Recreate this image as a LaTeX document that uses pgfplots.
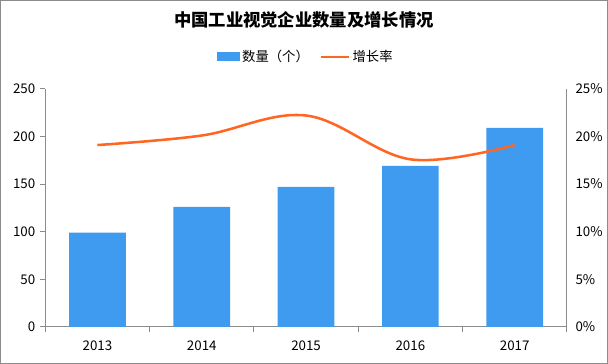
\documentclass[border=0pt]{standalone}
\usepackage{pgfplots}
\pgfplotsset{compat=1.18}
\usepackage{fontspec}
\setmainfont{Noto Sans CJK SC}
\definecolor{barblue}{RGB}{63,155,240}
\definecolor{lineor}{RGB}{255,102,34}
\definecolor{axgray}{RGB}{140,140,140}
\begin{document}
\begin{tikzpicture}[x=0.75pt,y=0.75pt]
\path[use as bounding box] (0,0) rectangle (608,364);
\draw[axgray, line width=0.75pt] (0.5,0.5) rectangle (607.5,363.5);
\node[font=\bfseries\fontsize{13}{15}\selectfont] at (304,344) {中国工业视觉企业数量及增长情况};
\begin{axis}[
  at={(43.4,39)}, anchor=south west, scale only axis,
  width=391.2pt, height=178.5pt,
  xmin=-0.5, xmax=4.5, ymin=0, ymax=250,
  axis y line*=left, axis x line*=bottom,
  axis line style={axgray, line width=0.75pt},
  xtick={0,1,2,3,4}, xticklabels={2013,2014,2015,2016,2017},
  minor xtick={-0.5,0.5,1.5,2.5,3.5,4.5},
  major x tick style={draw=none},
  minor tick length=4pt,
  ytick={0,50,100,150,200,250},
  major tick length=4pt,
  tick align=outside,
  tick style={axgray, line width=0.75pt},
  every tick label/.append style={font=\fontsize{10}{12}\selectfont},
  /pgf/number format/assume math mode=true,
  xticklabel style={yshift=-3pt},
  legend style={at={(0.5,1.135)}, anchor=center, draw=none, fill=none,
    legend columns=2, font=\fontsize{10}{12}\selectfont,
    /tikz/every even column/.append style={column sep=6pt}},
  clip=false,
]
\addplot[ybar, bar width=42.5pt, fill=barblue, draw=none,
  legend image code/.code={\fill[barblue] (0pt,-3.5pt) rectangle (17pt,3.5pt);}]
  coordinates {(0,99) (1,126) (2,147) (3,169) (4,209)};
\addlegendentry{数量（个）}
\addlegendimage{legend image code/.code={\draw[lineor, line width=1.8pt] (0pt,0pt) -- (21pt,0pt);}}
\addlegendentry{增长率}
\end{axis}
\begin{axis}[
  at={(43.4,39)}, anchor=south west, scale only axis,
  width=391.2pt, height=178.5pt,
  xmin=-0.5, xmax=4.5, ymin=0, ymax=25,
  axis y line*=right, axis x line=none,
  axis line style={axgray, line width=0.75pt},
  ytick={0,5,10,15,20,25},
  yticklabel={\pgfmathprintnumber{\tick}\%},
  major tick length=0pt,
  every tick label/.append style={font=\fontsize{10}{12}\selectfont},
  /pgf/number format/assume math mode=true,
  yticklabel style={xshift=3pt},
]
\addplot[lineor, line width=1.9pt, smooth, tension=0.6]
  coordinates {(0,19.1) (1,20.1) (2,22.2) (3,17.6) (4,19.1)};
\end{axis}
\end{tikzpicture}
\end{document}
